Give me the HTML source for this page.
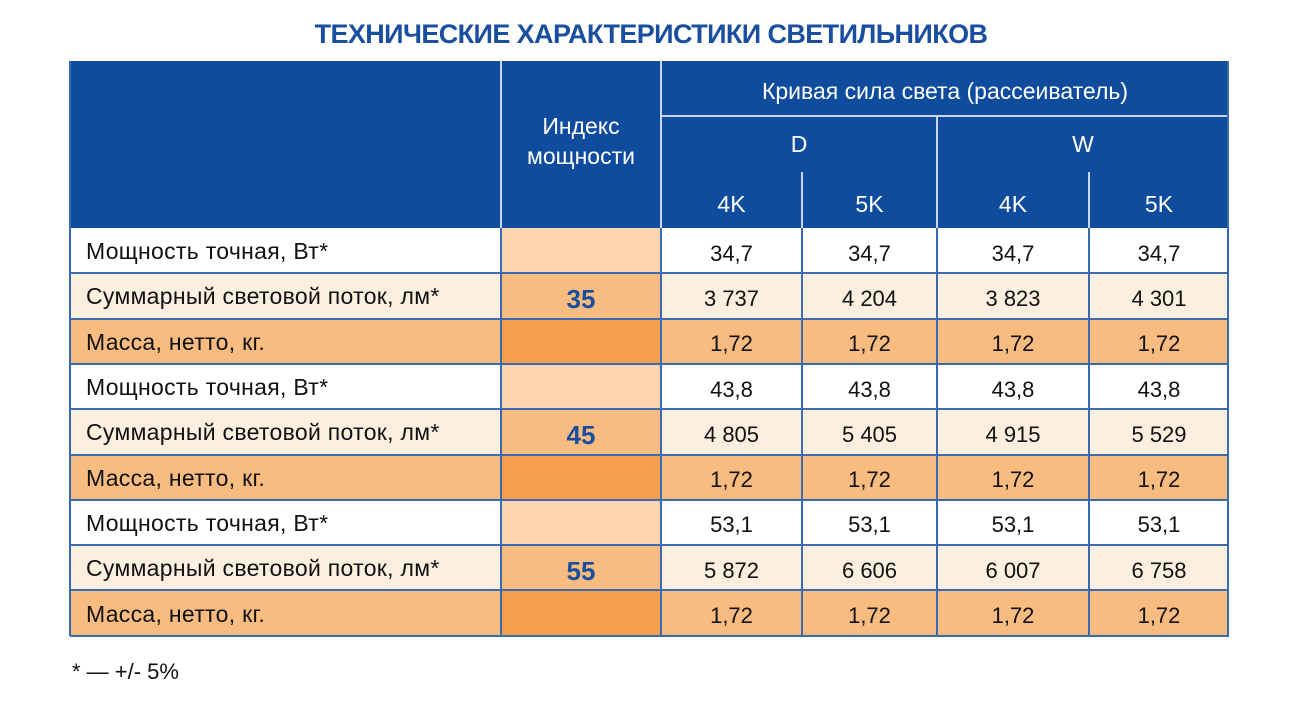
<!DOCTYPE html>
<html><head><meta charset="utf-8"><style>
body{margin:0;width:1302px;height:715px;background:#fff;position:relative;font-family:"Liberation Sans",sans-serif;overflow:hidden}
.a{position:absolute;box-sizing:border-box;display:flex;align-items:center;justify-content:center}
.t{position:absolute;left:0;width:1302px;top:19px;text-align:center;font:bold 27px "Liberation Sans",sans-serif;color:#1a4f9f;letter-spacing:-0.6px}
.h{background:#0f4c9e;color:#fff;font-size:23px}
.lbl{justify-content:flex-start;padding-left:16px;padding-top:2px;font-size:23px;color:#111;letter-spacing:0.3px}
.v{font-size:22px;color:#111;padding-top:6px}
.vl{position:absolute;width:2px;background:#3a6ab0}
.hl{position:absolute;height:2px;background:#3a6ab0}
</style></head><body>
<div class="t">ТЕХНИЧЕСКИЕ ХАРАКТЕРИСТИКИ СВЕТИЛЬНИКОВ</div>
<div class="a h" style="left:70px;top:61px;width:1159px;height:167px"></div>
<div class="a h" style="left:501px;top:61px;width:160px;height:167px;line-height:30px;text-align:center;padding-bottom:8px">Индекс<br>мощности</div>
<div class="a h" style="left:661px;top:61px;width:568px;height:55px;padding-top:6px">Кривая сила света (рассеиватель)</div>
<div class="a h" style="left:661px;top:116px;width:276px;height:56px">D</div>
<div class="a h" style="left:937px;top:116px;width:292px;height:56px">W</div>
<div class="a h" style="left:661px;top:172px;width:141px;height:56px;padding-top:8px">4K</div>
<div class="a h" style="left:802px;top:172px;width:135px;height:56px;padding-top:8px">5K</div>
<div class="a h" style="left:937px;top:172px;width:152px;height:56px;padding-top:8px">4K</div>
<div class="a h" style="left:1089px;top:172px;width:140px;height:56px;padding-top:8px">5K</div>
<div class="hl" style="left:661px;top:115px;width:568px;background:#c8d6ea"></div>
<div class="vl" style="left:500px;top:61px;height:167px;background:#c8d6ea"></div>
<div class="vl" style="left:660px;top:61px;height:167px;background:#c8d6ea"></div>
<div class="vl" style="left:936px;top:116px;height:112px;background:#c8d6ea"></div>
<div class="vl" style="left:801px;top:172px;height:56px;background:#c8d6ea"></div>
<div class="vl" style="left:1088px;top:172px;height:56px;background:#c8d6ea"></div>

<div id="rows"></div>
<script>
var rows=[
["Мощность точная, Вт*",["34,7","34,7","34,7","34,7"]],
["Суммарный световой поток, лм*",["3 737","4 204","3 823","4 301"]],
["Масса, нетто, кг.",["1,72","1,72","1,72","1,72"]],
["Мощность точная, Вт*",["43,8","43,8","43,8","43,8"]],
["Суммарный световой поток, лм*",["4 805","5 405","4 915","5 529"]],
["Масса, нетто, кг.",["1,72","1,72","1,72","1,72"]],
["Мощность точная, Вт*",["53,1","53,1","53,1","53,1"]],
["Суммарный световой поток, лм*",["5 872","6 606","6 007","6 758"]],
["Масса, нетто, кг.",["1,72","1,72","1,72","1,72"]]];
var bg=["#ffffff","#fdefe0","#f8bb80"],ib=["#fdd5b0","#f8bb80","#f6a04d"];
var cx=[661,802,937,1089,1229],h="";
for(var i=0;i<9;i++){var y=228+i*45.3,k=i%3;
h+='<div class="a lbl" style="left:70px;top:'+y+'px;width:431px;height:45.3px;background:'+bg[k]+'">'+rows[i][0]+'</div>';
h+='<div class="a" style="left:501px;top:'+y+'px;width:160px;height:45.3px;padding-top:8px;background:'+ib[k]+';font:bold 26px \'Liberation Sans\',sans-serif;color:#1a4f9f">'+(k==1?[35,45,55][(i-1)/3]:'')+'</div>';
for(var j=0;j<4;j++)h+='<div class="a v" style="left:'+cx[j]+'px;top:'+y+'px;width:'+(cx[j+1]-cx[j])+'px;height:45.3px;background:'+bg[k]+'">'+rows[i][1][j]+'</div>';
}
for(var i=1;i<=9;i++)h+='<div class="hl" style="left:70px;top:'+(227+i*45.3)+'px;width:1159px"></div>';
[69,500,660,801,936,1088,1227].forEach(function(x){h+='<div class="vl" style="left:'+x+'px;top:228px;height:408px"></div>'});
h+='<div class="vl" style="left:69px;top:61px;height:575px"></div><div class="vl" style="left:1227px;top:61px;height:575px"></div>';
document.getElementById('rows').innerHTML=h;
</script>
<div style="position:absolute;left:72px;top:659px;font-size:22px;color:#111">* — +/- 5%</div>
</body></html>
